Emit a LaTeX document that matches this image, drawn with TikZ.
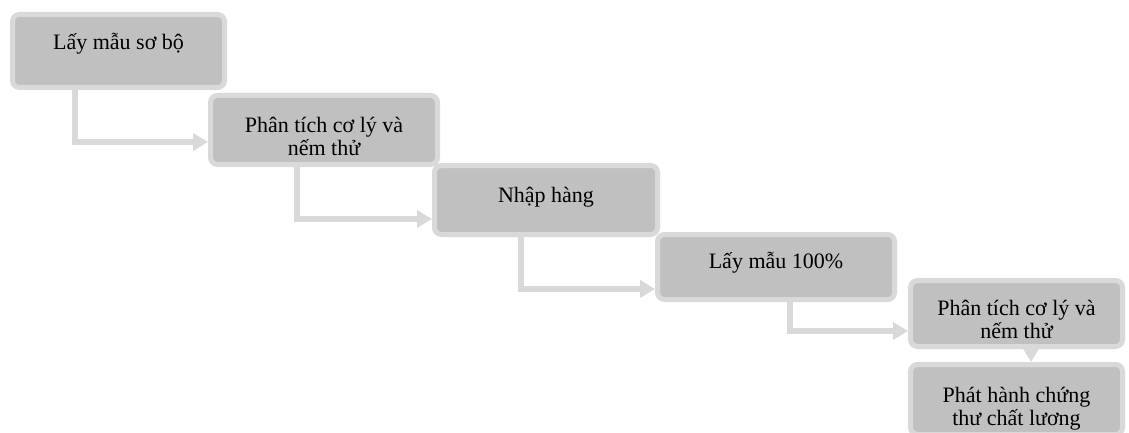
\documentclass[tikz,border=0pt]{standalone}
\usepackage{fontspec}
\setmainfont{Liberation Serif}
\usetikzlibrary{arrows.meta,positioning}
\definecolor{boxfill}{HTML}{C0C0C0}
\definecolor{boxline}{HTML}{D9D9D9}
\newcommand{\twolines}[2]{\begin{tabular}[t]{@{}c@{}}#1\\#2\end{tabular}}

\begin{document}
\begin{tikzpicture}[x=1pt, y=-1pt,
    stepbox/.style={draw=boxline, fill=boxfill, line width=5pt, rounded corners=7pt, inner sep=0pt},
    steptext/.style={anchor=base, inner sep=0pt, font=\fontsize{22}{23}\selectfont},
    flow/.style={draw=boxline, line width=6pt, -{Triangle[length=15pt,width=17pt]}}]
      \clip (0,0) rectangle (1129,433);

      \node[stepbox, minimum width=212pt, minimum height=73pt] (laymau)    at (118.5,51)    {};
      \node[stepbox, minimum width=227pt, minimum height=69pt] (phantich1) at (324,130)     {};
      \node[stepbox, minimum width=223pt, minimum height=69pt] (nhaphang)  at (546,200)     {};
      \node[stepbox, minimum width=237pt, minimum height=65pt] (laymau100) at (776,267)     {};
      \node[stepbox, minimum width=212pt, minimum height=66pt] (phantich2) at (1016.5,313.5) {};
      \node[stepbox, minimum width=212pt, minimum height=70pt] (phathanh)  at (1016.5,399.5) {};

      % texts sit at the top of each box
      \node[steptext] (laymauT)    at ([yshift=-38pt]laymau.north)    {Lấy mẫu sơ bộ};
      \node[steptext] (phantich1T) at ([yshift=-39pt]phantich1.north) {\twolines{Phân tích cơ lý và}{nếm thử}};
      \node[steptext] (nhaphangT)  at ([yshift=-39pt]nhaphang.north)  {Nhập hàng};
      \node[steptext] (laymau100T) at ([yshift=-36pt]laymau100.north) {Lấy mẫu 100\%};
      \node[steptext] (phantich2T) at ([yshift=-37pt]phantich2.north) {\twolines{Phân tích cơ lý và}{nếm thử}};
      \node[steptext] (phathanhT)  at ([yshift=-40pt]phathanh.north)  {\twolines{Phát hành chứng}{thư chất lương}};

      \draw[flow] ([xshift=-44pt]laymau.south)    |- ([yshift=-12pt]phantich1.west);
      \draw[flow] ([xshift=-27pt]phantich1.south) |- ([yshift=-19pt]nhaphang.west);
      \draw[flow] ([xshift=-25pt]nhaphang.south)  |- ([yshift=-22pt]laymau100.west);
      \draw[flow] ([xshift=14pt]laymau100.south)  |- ([yshift=-17.5pt]phantich2.west);
      \draw[flow] ([xshift=14.5pt]phantich2.south) -- ([xshift=14.5pt]phantich2.south |- phathanh.north);

    \end{tikzpicture}
\end{document}
